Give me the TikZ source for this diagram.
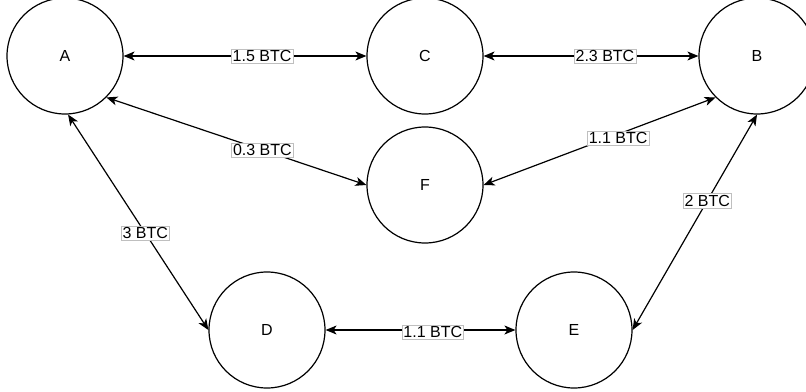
\documentclass[tikz,border=0pt]{standalone}
\usepackage{fontspec}
\setmainfont{Liberation Sans}
\usetikzlibrary{arrows.meta}
\begin{document}
\begin{tikzpicture}[x=1pt,y=-1pt,
  acct/.style={circle,draw=black,line width=1.2pt,fill=white,minimum size=116pt,inner sep=0pt,
    font=\fontsize{16}{19}\selectfont},
  link/.style={line width=1.2pt,{Stealth[length=11pt,width=9pt,inset=3pt]}-{Stealth[length=11pt,width=9pt,inset=3pt]}},
  amt/.style={fill=white,draw=black!25,line width=0.6pt,inner sep=1.5pt,
    font=\fontsize{16}{19}\selectfont}]
\clip (0,0) rectangle (806,391);
\fill[white] (0,0) rectangle (806,391);
\node[acct] (A) at (65,56) {A};
\node[acct] (C) at (425,56) {C};
\node[acct] (B) at (757,56) {B};
\node[acct] (F) at (425,185) {F};
\node[acct] (D) at (267,330) {D};
\node[acct] (E) at (574,330) {E};
\draw[link] (A.east) -- node[amt,pos=0.57] {1.5 BTC} (C.west);
\draw[link] (C.east) -- node[amt,pos=0.565] {2.3 BTC} (B.west);
\draw[link] (A.-45) -- node[amt,pos=0.6] {0.3 BTC} (F.west);
\draw[link] (F.east) -- node[amt,pos=0.58,yshift=-4pt] {1.1 BTC} (B.-135);
\draw[link] (A.-87) -- node[amt,pos=0.55] {3 BTC} (D.west);
\draw[link] (B.south) -- node[amt,pos=0.4] {2 BTC} (E.east);
\draw[link] (D.east) -- node[amt,pos=0.565,yshift=-2pt] {1.1 BTC} (E.west);
\end{tikzpicture}
\end{document}
